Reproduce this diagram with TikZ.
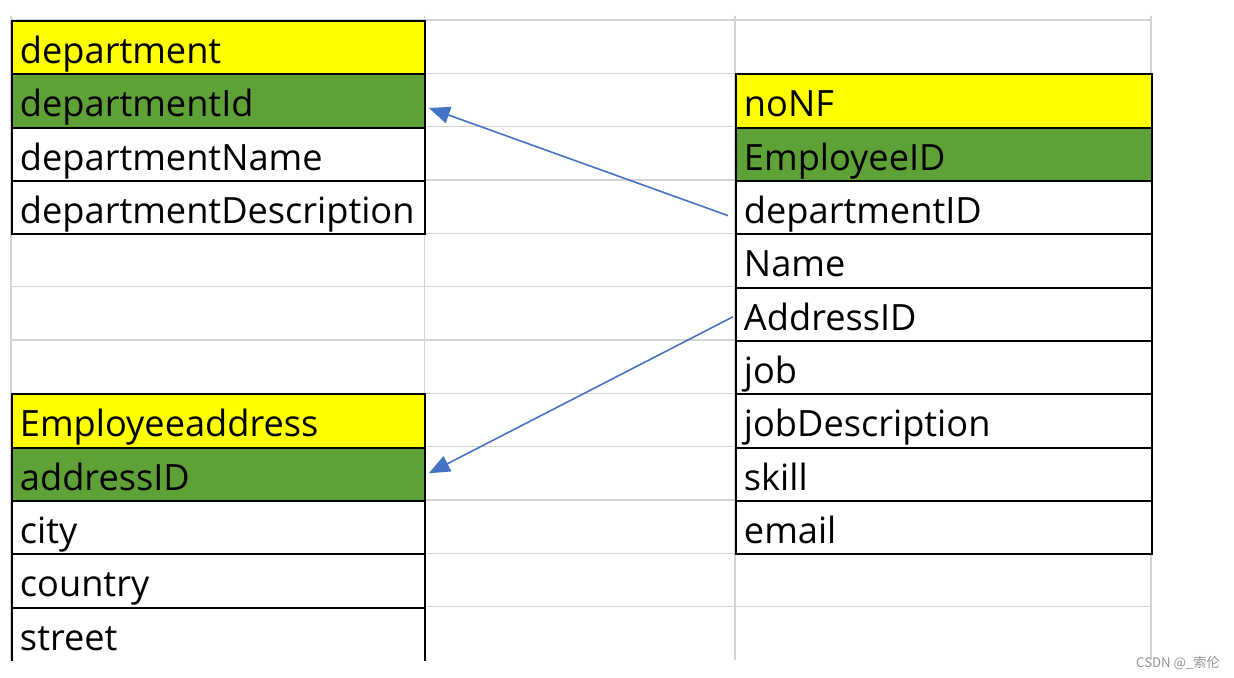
\documentclass[tikz,border=0pt]{standalone}
\usepackage{fontspec}
\setmainfont{Open Sans}
\newfontfamily\cjkfont{Noto Sans CJK SC}
\usetikzlibrary{arrows.meta}

\definecolor{hdryellow}{RGB}{255,255,0}
\definecolor{keygreen}{RGB}{94,161,54}
\definecolor{linkblue}{RGB}{68,114,196}
\definecolor{gridgray}{RGB}{212,212,212}

\begin{document}
\begin{tikzpicture}[x=0.02cm,y=-0.02cm,
	cell/.style={draw=black,fill=white,line width=1.1pt,anchor=north west,minimum height=1.0667cm,
		inner xsep=0.16cm,inner ysep=0pt,text width=7.95cm,align=left,text height=0.73cm,text depth=0.1cm,
		font=\fontsize{20.6}{24}\selectfont},
	widecell/.style={cell,text width=8.0cm},
	grid/.style={draw=gridgray,line width=0.8pt}]
	
	\useasboundingbox[fill=white] (0,0) rectangle (1234,678);
	
	% sheet grid
	\foreach \k in {0,...,11}
		\path[grid] (11,{20+53.333*\k}) -- (1151,{20+53.333*\k});
	\foreach \c in {11,424.5,735,1151}
		\path[grid] (\c,16) -- (\c,660);
	
	% department
	\node[cell,fill=hdryellow] (dept0) at (11,20) {department};
	\node[cell,fill=keygreen] (dept1) at (11,73.33) {departmentId};
	\node[cell] (dept2) at (11,126.67) {departmentName};
	\node[cell] (dept3) at (11,180) {departmentDescription};
	
	% noNF
	\node[widecell,fill=hdryellow] (nf0) at (735,73.33) {noNF};
	\node[widecell,fill=keygreen] (nf1) at (735,126.67) {EmployeeID};
	\node[widecell] (nf2) at (735,180) {departmentID};
	\node[widecell] (nf3) at (735,233.33) {Name};
	\node[widecell] (nf4) at (735,286.67) {AddressID};
	\node[widecell] (nf5) at (735,340) {job};
	\node[widecell] (nf6) at (735,393.33) {jobDescription};
	\node[widecell] (nf7) at (735,446.67) {skill};
	\node[widecell] (nf8) at (735,500) {email};
	
	% Employeeaddress
	\node[cell,fill=hdryellow] (addr0) at (11,393.33) {Employeeaddress};
	\node[cell,fill=keygreen] (addr1) at (11,446.67) {addressID};
	\node[cell] (addr2) at (11,500) {city};
	\node[cell] (addr3) at (11,553.33) {country};
	\node[cell,draw=none,outer sep=0pt] (addr4) at (12,607.67) {street};
	\draw[line width=1.1pt] (addr4.south west) -- (addr4.north west) -- (addr4.north east) -- (addr4.south east);
	
	\path[->,>={Triangle[length=0.42cm,width=0.34cm]},draw=linkblue,line width=0.9pt]
		([xshift=-0.14cm,yshift=-0.16cm]nf2.west) -- ([xshift=0.05cm,yshift=-0.14cm]dept1.east);
	\path[->,>={Triangle[length=0.42cm,width=0.34cm]},draw=linkblue,line width=0.9pt]
		([xshift=-0.04cm,yshift=-0.05cm]nf4.west) -- ([xshift=0.05cm,yshift=0.02cm]addr1.east);
	
	\node[text=black!42,font=\cjkfont\fontsize{7.5}{9}\selectfont] (mark) at (1178,663) {CSDN @\_索伦};

\end{tikzpicture}
\end{document}
